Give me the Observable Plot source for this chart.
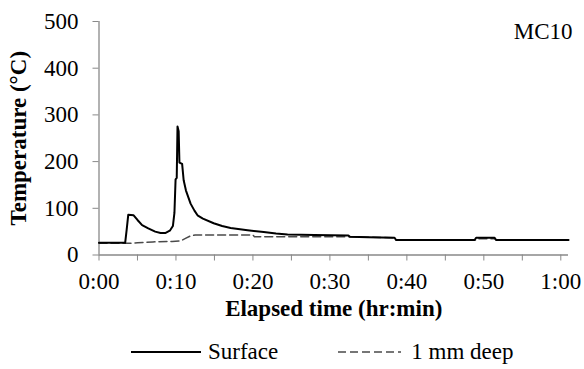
<!DOCTYPE html>
<html><head><meta charset="utf-8">
<script src="https://cdn.jsdelivr.net/npm/d3@7"></script>
<script src="https://cdn.jsdelivr.net/npm/@observablehq/plot@0.6"></script>
<style>
body{margin:0;background:#fff;}
#chart{width:584px;height:369px;position:relative;font-family:"Liberation Serif","DejaVu Serif",serif;color:#000;}
#chart svg.plot{position:absolute;left:0;top:0;}
#chart svg.plot text{font-family:"Liberation Serif","DejaVu Serif",serif;}
.legend{position:absolute;left:131px;top:340px;display:flex;align-items:center;height:24px;font-size:23px;line-height:24px;white-space:nowrap;}
</style></head><body><div id="chart"></div>
<script>
// Surface series (elapsed minutes, °C)
const surfaceMin = [0, 3.4, 3.6, 3.8, 4.5, 5.0, 5.6, 6.4, 7.3, 8.0, 8.6, 9.2, 9.6, 9.8, 9.95, 10.1, 10.2, 10.35, 10.45, 10.8, 11.0, 11.3, 11.9, 12.4, 12.8, 13.5, 14.9, 16.0, 17.1, 19.3, 21.4, 23.0, 24.5, 28.0, 32.4, 32.6, 35.0, 38.4, 38.6, 48.8, 49.0, 51.4, 51.6, 61.0];
const surfaceTemp = [26, 26, 55, 86, 85, 75, 64, 57, 50, 47, 47, 52, 62, 90, 162, 165, 275, 265, 198, 195, 160, 138, 110, 95, 85, 78, 68, 62, 58, 53, 49, 46, 44, 43, 42, 39, 38, 37, 32, 32, 37, 37, 32, 32];
// 1 mm deep series
const deepMin = [0, 4.0, 5.0, 7.0, 9.5, 10.6, 11.3, 11.9, 12.5, 20.0, 20.2, 32.0, 38.4, 38.6, 49.0, 49.2, 51.4, 51.6, 61.0];
const deepTemp = [25, 25, 26, 28, 29, 30, 36, 41, 43, 43, 39, 39, 37, 32, 32, 35, 35, 32, 32];

const yTicks = [0, 100, 200, 300, 400, 500];
const xTicks = [0, 5, 10, 15, 20, 25, 30, 35, 40, 45, 50, 55, 60];
const xLabelTicks = [0, 10, 20, 30, 40, 50, 60];
const xTickLabels = ["0:00", "0:10", "0:20", "0:30", "0:40", "0:50", "1:00"];
const seriesNames = ["Surface", "1 mm deep"];
const panelTitle = "MC10";
const xTitle = "Elapsed time (hr:min)";
const yTitle = "Temperature (°C)";

const surface = surfaceMin.map((m, i) => ({min: m, temp: surfaceTemp[i]}));
const deep = deepMin.map((m, i) => ({min: m, temp: deepTemp[i]}));
const axisGray = "#898989";
const serif = "Liberation Serif, DejaVu Serif, serif";

const plot = Plot.plot({
  width: 584, height: 330,
  marginLeft: 98.5, marginRight: 16, marginTop: 21, marginBottom: 75.5,
  style: {fontFamily: serif, fontSize: "23px", color: "#000", background: "#fff", overflow: "visible"},
  x: {domain: [0, 61]},
  y: {domain: [0, 500]},
  marks: [
    Plot.axisY({ticks: yTicks, tickSize: 6, tickPadding: 14.5, stroke: axisGray, fill: "#000", label: null, fontSize: 23, fontFamily: serif}),
    Plot.axisX({ticks: xTicks, tickSize: 6, tickPadding: 12, stroke: axisGray, fill: "#000", label: null, fontSize: 23, fontFamily: serif,
      tickFormat: d => { const i = xLabelTicks.indexOf(d); return i >= 0 ? xTickLabels[i] : ""; }}),
    Plot.ruleX([0], {stroke: axisGray, strokeWidth: 1.3}),
    Plot.ruleY([0], {stroke: axisGray, strokeWidth: 1.3}),
    Plot.line(deep, {x: "min", y: "temp", stroke: "#4a4a4a", strokeWidth: 1.5, strokeDasharray: "8,4"}),
    Plot.line(surface, {x: "min", y: "temp", stroke: "#000", strokeWidth: 2}),
    Plot.text([xTitle], {frameAnchor: "bottom", dy: 61, fontWeight: "bold", fontSize: 23, fontFamily: serif, fill: "#000"}),
    Plot.text([yTitle], {frameAnchor: "left", textAnchor: "middle", rotate: -90, dx: -80.5, fontWeight: "bold", fontSize: 23, fontFamily: serif, fill: "#000"}),
    Plot.text([panelTitle], {frameAnchor: "top-right", textAnchor: "end", dx: 4, dy: 1.5, fontSize: 23, fontFamily: serif, fill: "#000"})
  ]
});
plot.classList.add("plot");
const chart = document.getElementById("chart");
chart.appendChild(plot);

const legend = document.createElement("div");
legend.className = "legend";
legend.innerHTML =
  `<svg width="70" height="24"><line x1="0" x2="70" y1="12" y2="12" stroke="#000" stroke-width="2"/></svg>` +
  `<span style="margin-left:7px">${seriesNames[0]}</span>` +
  `<svg width="63" height="24" style="margin-left:60px"><line x1="0" x2="63" y1="12" y2="12" stroke="#4a4a4a" stroke-width="1.5" stroke-dasharray="8,4"/></svg>` +
  `<span style="margin-left:10px">${seriesNames[1]}</span>`;
chart.appendChild(legend);
</script>
</body></html>
